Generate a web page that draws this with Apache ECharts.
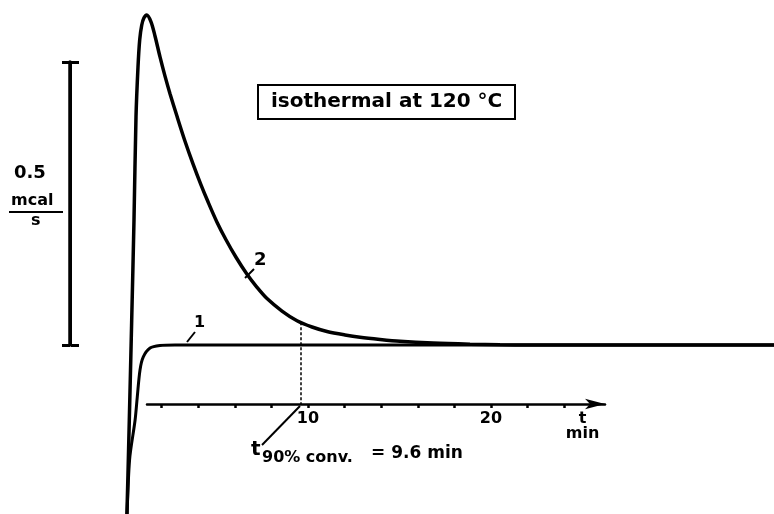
<!DOCTYPE html>
<html><head><meta charset="utf-8">
<script src="https://cdn.jsdelivr.net/npm/echarts@6/dist/echarts.min.js"></script>
<style>html,body{margin:0;padding:0;background:#fff}#c{width:774px;height:514px}</style>
</head><body><div id="c"></div>
<script>
// ---- data (time in min, heat flow in mcal/s relative to baseline) ----
const time1 = [0.0, 0.08, 0.25, 0.55, 0.67, 0.82, 1.0, 1.37, 1.91, 2.73, 35.5];
const heat1 = [-0.40, -0.327, -0.203, -0.133, -0.092, -0.044, -0.021, -0.0053, -0.0009, 0, 0];
const time2 = [0.0, 0.082, 0.235, 0.366, 0.492, 0.601, 0.710, 0.803, 0.913, 1.038, 1.186, 1.421, 1.639, 1.913, 2.186, 2.459, 2.842, 3.279, 3.716, 4.153, 4.536, 5.027, 5.519, 6.066, 6.667, 7.213, 7.760, 8.579, 9.399, 10.219, 11.038, 12.022, 12.842, 13.934, 15.027, 16.831, 18.852, 20.492, 22.131, 35.5];
const heat2 = [-0.40, -0.327, -0.133, 0.044, 0.221, 0.403, 0.491, 0.539, 0.565, 0.578, 0.583, 0.571, 0.546, 0.509, 0.475, 0.444, 0.404, 0.360, 0.320, 0.283, 0.253, 0.217, 0.186, 0.155, 0.125, 0.102, 0.082, 0.060, 0.0428, 0.0318, 0.0239, 0.0177, 0.0136, 0.0097, 0.0065, 0.0034, 0.0014, 0.0004, 0.0, 0.0];
const axisTicks = [2, 4, 6, 8, 10, 12, 14, 16, 18, 20, 22, 24];
const axisLabels = [10, 20];
const unitLabelAt = 25;
const unitLabel = 't\nmin';
const t90 = 9.6;
const t90Heat = 0.040;
const scaleBar = [0, 0.5];
const seriesNames = ['1', '2'];

// ---- layout ----
const W = 774, H = 514;
const X0 = 125, PXMIN = 18.3;     // pixel of t=0, px per minute
const Y0 = 345, PXUNIT = 566;     // pixel of baseline, px per mcal/s
const AXIS_Y = 404, AX_L = 147, AX_R = 605;
const FONT = 'DejaVu Sans';
const tx = px => (px - X0) / PXMIN;
const vy = py => (Y0 - py) / PXUNIT;

const chart = echarts.init(document.getElementById('c'));
const pts = (t, v) => t.map((x, i) => [x, v[i]]);

chart.setOption({
  animation: false,
  backgroundColor: '#fff',
  title: {
    text: 'isothermal at 120 °C',
    left: 258, top: 85,
    padding: [7, 13, 7, 13],
    borderColor: '#000', borderWidth: 2,
    textStyle: { fontFamily: FONT, fontSize: 20, fontWeight: 'bold', color: '#000' }
  },
  grid: [
    { left: 0, top: 0, width: W, height: H },
    { left: AX_L, top: AXIS_Y - 20, width: AX_R - AX_L, height: 20 },
    { left: 70, top: 62, width: 1, height: 283 }
  ],
  xAxis: [
    { gridIndex: 0, type: 'value', min: tx(0), max: tx(W), show: false },
    { gridIndex: 1, type: 'value', min: tx(AX_L), max: tx(AX_R),
      axisLine: { show: true, lineStyle: { color: '#000', width: 2.5 }, symbol: ['none', 'arrow'], symbolSize: [8, 20] },
      axisTick: { show: true, customValues: axisTicks, length: 4, lineStyle: { color: '#000', width: 2.5 } },
      axisLabel: { show: true, customValues: axisLabels.concat([unitLabelAt]), margin: 7,
        formatter: v => (v === unitLabelAt ? unitLabel : String(v)),
        fontFamily: FONT, fontSize: 16, fontWeight: 'bold', color: '#000', lineHeight: 15 },
      splitLine: { show: false } },
    { gridIndex: 2, type: 'value', min: 0, max: 1, show: false }
  ],
  yAxis: [
    { gridIndex: 0, type: 'value', min: vy(H), max: vy(0), show: false },
    { gridIndex: 1, type: 'value', show: false },
    { gridIndex: 2, type: 'value', min: scaleBar[0], max: scaleBar[1], interval: scaleBar[1] - scaleBar[0], position: 'left',
      axisLine: { show: true, lineStyle: { color: '#000', width: 3.5 } },
      axisTick: { show: true, length: 8, lineStyle: { color: '#000', width: 3 } },
      axisLabel: { show: false }, splitLine: { show: false } },
    { gridIndex: 2, type: 'value', min: scaleBar[0], max: scaleBar[1], interval: scaleBar[1] - scaleBar[0], position: 'right',
      axisLine: { show: true, lineStyle: { color: '#000', width: 2 } },
      axisTick: { show: true, length: 8, lineStyle: { color: '#000', width: 3 } },
      axisLabel: { show: false }, splitLine: { show: false } }
  ],
  series: [
    { name: seriesNames[0], type: 'line', xAxisIndex: 0, yAxisIndex: 0, data: pts(time1, heat1),
      showSymbol: false, smooth: 0.3, clip: true,
      lineStyle: { color: '#000', width: 3 } },
    { name: seriesNames[1], type: 'line', xAxisIndex: 0, yAxisIndex: 0, data: pts(time2, heat2),
      showSymbol: false, smooth: 0.3, clip: true,
      lineStyle: { color: '#000', width: 3.5 },
      markLine: { silent: true, symbol: 'none', label: { show: false },
        lineStyle: { color: '#000', width: 1.5, type: [3, 2] },
        data: [[{ coord: [t90, t90Heat] }, { coord: [t90, vy(AXIS_Y)] }]] } }
  ],
  graphic: [
    // curve labels with leaders
    { type: 'line', shape: { x1: 187, y1: 342, x2: 195, y2: 332 }, style: { stroke: '#000', lineWidth: 2 } },
    { type: 'text', left: 194, top: 315, style: { text: seriesNames[0], font: 'bold 16px "DejaVu Sans"', fill: '#000' } },
    { type: 'line', shape: { x1: 245, y1: 278, x2: 254, y2: 269 }, style: { stroke: '#000', lineWidth: 2 } },
    { type: 'text', left: 254, top: 251, style: { text: seriesNames[1], font: 'bold 18px "DejaVu Sans"', fill: '#000' } },
    // scale bar label
    { type: 'text', left: 14, top: 164, style: { text: String(scaleBar[1] - scaleBar[0]), font: 'bold 18px "DejaVu Sans"', fill: '#000' } },
    { type: 'text', left: 11, top: 193, style: { text: 'mcal', font: 'bold 16px "DejaVu Sans"', fill: '#000' } },
    { type: 'line', shape: { x1: 9, y1: 212, x2: 63, y2: 212 }, style: { stroke: '#000', lineWidth: 2 } },
    { type: 'text', left: 31, top: 213, style: { text: 's', font: 'bold 16px "DejaVu Sans"', fill: '#000' } },
    // t90 annotation
    { type: 'line', shape: { x1: 300, y1: 406, x2: 262, y2: 445 }, style: { stroke: '#000', lineWidth: 2 } },
    { type: 'text', left: 251, top: 440, style: { text: 't', font: 'bold 20px "DejaVu Sans"', fill: '#000' } },
    { type: 'text', left: 262, top: 450, style: { text: '90% conv.', font: 'bold 16px "DejaVu Sans"', fill: '#000' } },
    { type: 'text', left: 371, top: 445, style: { text: '= ' + t90 + ' min', font: 'bold 17px "DejaVu Sans"', fill: '#000' } }
  ]
});
</script>
</body></html>
